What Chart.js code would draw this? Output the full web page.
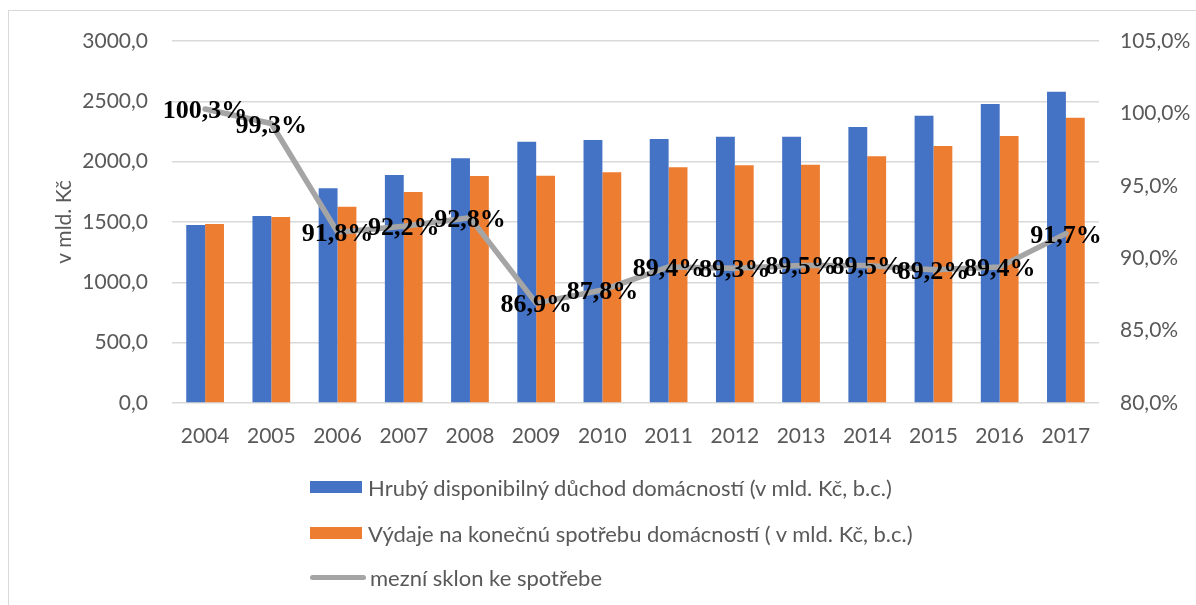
<!DOCTYPE html>
<html><head><meta charset="utf-8">
<script src="https://cdn.jsdelivr.net/npm/chart.js@4.4.0/dist/chart.umd.min.js"></script>
<style>
html,body{margin:0;padding:0;background:#fff;width:1196px;height:605px;overflow:hidden;}
#frame{position:absolute;left:8px;top:10px;width:1200px;height:620px;border:1px solid #d9d9d9;box-sizing:border-box;}
#wrap{position:absolute;left:0;top:0;width:1196px;height:605px;}
#legend{position:absolute;left:0;top:0;width:1196px;height:605px;pointer-events:none;font-family:Lato,"Liberation Sans",sans-serif;color:#595959;font-size:22px;}
.item{position:absolute;left:310px;display:flex;align-items:center;height:30px;white-space:nowrap;}
.sw{width:52px;height:12px;margin-right:6px;}
.ln{width:56px;height:5px;border-radius:3px;margin-right:4px;}
</style></head>
<body>
<div id="frame"></div>
<div id="wrap"><canvas id="c" width="1196" height="605"></canvas></div>
<div id="legend"></div>
<script>
const years = ['2004','2005','2006','2007','2008','2009','2010','2011','2012','2013','2014','2015','2016','2017'];
const incomeValues = [1475,1550,1779,1889,2028,2165,2180,2188,2207,2207,2287,2381,2478,2580];
const spendingValues = [1483,1541,1627,1748,1881,1883,1912,1953,1970,1975,2044,2130,2213,2364];
const mpcValues = [100.3,99.3,91.8,92.2,92.8,86.9,87.8,89.4,89.3,89.5,89.5,89.2,89.4,91.7];
const seriesNames = ['Hrubý disponibilný důchod domácností (v mld. Kč, b.c.)','Výdaje na konečnú spotřebu domácností ( v mld. Kč, b.c.)','mezní sklon ke spotřebe'];
const leftTicks = [0,500,1000,1500,2000,2500,3000];
const rightTicks = [80,85,90,95,100,105];

const fmt = v => v.toFixed(1).replace('.', ',');
const tickFont = {family:'Lato, "Liberation Sans", sans-serif', size:21};
const grey = '#595959';

const labelPlugin = {
  id:'lineLabels',
  afterDatasetsDraw(chart){
    const meta = chart.getDatasetMeta(0);
    const ctx = chart.ctx;
    ctx.save();
    ctx.font = 'bold 26px "Liberation Serif", "Times New Roman", serif';
    ctx.fillStyle = '#000';
    ctx.textAlign = 'center';
    ctx.textBaseline = 'alphabetic';
    meta.data.forEach((pt,i)=>{
      ctx.fillText(fmt(mpcValues[i])+'%', pt.x, pt.y+9);
    });
    ctx.restore();
  }
};

const chart = new Chart(document.getElementById('c'), {
  data:{
    labels: years,
    datasets:[
      {type:'line', label:seriesNames[2], data:mpcValues, yAxisID:'y1', borderColor:'#A5A5A5', borderWidth:5.5, pointRadius:0, tension:0, order:0, borderCapStyle:'round', borderJoinStyle:'round'},
      {type:'bar', label:seriesNames[0], data:incomeValues, yAxisID:'y', backgroundColor:'#4472C4', categoryPercentage:0.57, barPercentage:1.0, order:1},
      {type:'bar', label:seriesNames[1], data:spendingValues, yAxisID:'y', backgroundColor:'#ED7D31', categoryPercentage:0.57, barPercentage:1.0, order:2}
    ]
  },
  options:{
    responsive:false, animation:false, devicePixelRatio:1,
    layout:{padding:{top:41,left:0,right:0,bottom:0}},
    plugins:{legend:{display:false}, tooltip:{enabled:false}},
    scales:{
      x:{
        grid:{display:false, drawTicks:false},
        border:{display:false},
        ticks:{color:grey, font:tickFont, padding:21, maxRotation:0},
        afterFit(s){ s.height = 202; }
      },
      y:{
        position:'left', min:0, max:3000,
        afterBuildTicks(s){ s.ticks = leftTicks.map(v=>({value:v})); },
        grid:{color:'#d9d9d9', lineWidth:1.5, drawTicks:false},
        border:{display:false},
        ticks:{color:grey, font:tickFont, padding:24, callback:v=>fmt(v)},
        title:{display:true, text:'v mld. Kč', color:grey, font:tickFont, padding:{top:52,bottom:0}},
        afterFit(s){ s.width = 172; }
      },
      y1:{
        position:'right', min:80, max:105,
        afterBuildTicks(s){ s.ticks = rightTicks.map(v=>({value:v})); },
        grid:{display:false, drawTicks:false},
        border:{display:false},
        ticks:{color:grey, font:tickFont, padding:21, callback:v=>fmt(v)+'%'},
        afterFit(s){ s.width = 97; }
      }
    }
  },
  plugins:[labelPlugin]
});

// HTML legend built from the datasets
const legend = document.getElementById('legend');
const rows = [{ds:1, y:487},{ds:2, y:533},{ds:0, y:577}];
rows.forEach(r=>{
  const d = chart.data.datasets[r.ds];
  const it = document.createElement('div');
  it.className='item';
  it.style.top = (r.y-15)+'px';
  const sw = document.createElement('div');
  if(d.type==='line'){ sw.className='ln'; sw.style.background=d.borderColor; }
  else { sw.className='sw'; sw.style.background=d.backgroundColor; }
  const tx = document.createElement('span');
  tx.textContent = d.label;
  it.appendChild(sw); it.appendChild(tx);
  legend.appendChild(it);
});
</script>
</body></html>
